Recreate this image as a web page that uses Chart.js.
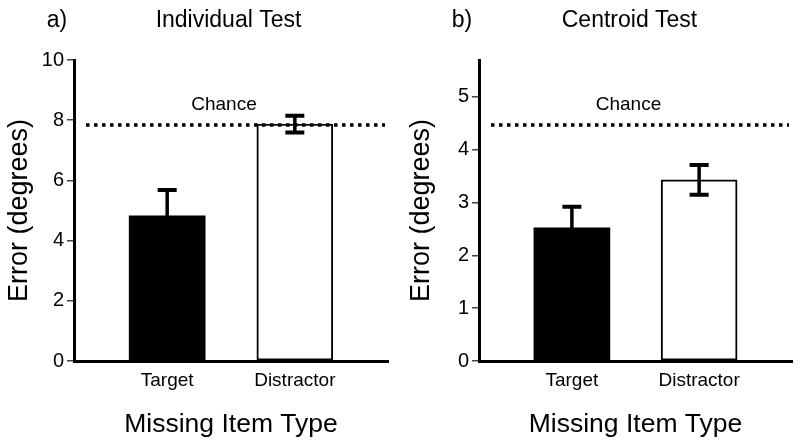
<!DOCTYPE html>
<html>
<head>
<meta charset="utf-8">
<script src="https://cdn.jsdelivr.net/npm/chart.js@4.4.0/dist/chart.umd.min.js"></script>
<style>
  html, body { margin: 0; padding: 0; background: #fff; }
  .wrap { position: relative; width: 800px; height: 446px; }
  .panel { position: absolute; top: 0; width: 400px; height: 446px; }
</style>
</head>
<body>
<div class="wrap">
  <div class="panel" style="left:0"><canvas id="chartA"></canvas></div>
  <div class="panel" style="left:400px"><canvas id="chartB"></canvas></div>
</div>
<script>
// Data
const categories = ['Target', 'Distractor'];
const individualMeans = [4.82, 7.87];
const individualErrors = [0.86, 0.28];
const individualChance = 7.84;
const individualTicks = [0, 2, 4, 6, 8, 10];
const centroidMeans = [2.52, 3.43];
const centroidErrors = [0.40, 0.28];
const centroidChance = 4.47;
const centroidTicks = [0, 1, 2, 3, 4, 5];
const barColors = ['#000000', '#ffffff'];

const FONT = '"Liberation Sans", Arial, Helvetica, sans-serif';

// Chance line, error bars, panel titles
const extrasPlugin = {
    id: 'extras',
    afterDatasetsDraw(chart, args, opts) {
        const ctx = chart.ctx;
        const area = chart.chartArea;
        const y = chart.scales.y;
        const cy = y.getPixelForValue(opts.chance);
        const mid = (area.left + area.right) / 2;
        ctx.save();
        ctx.strokeStyle = '#000';
        ctx.fillStyle = '#000';

        // dotted chance line
        ctx.lineWidth = 3.5;
        ctx.setLineDash([3.5, 4.5]);
        ctx.beginPath();
        ctx.moveTo(area.left + 12, cy);
        ctx.lineTo(area.right - 3, cy);
        ctx.stroke();
        ctx.setLineDash([]);

        ctx.font = '19px ' + FONT;
        ctx.textAlign = 'center';
        ctx.textBaseline = 'middle';
        ctx.fillText('Chance', mid - 7, cy - 20);

        // error bars
        const meta = chart.getDatasetMeta(0);
        meta.data.forEach((bar, i) => {
            const top = y.getPixelForValue(opts.means[i] + opts.errors[i]);
            const bot = y.getPixelForValue(opts.means[i] - opts.errors[i]);
            ctx.lineWidth = 3.5;
            ctx.beginPath();
            ctx.moveTo(bar.x, top);
            ctx.lineTo(bar.x, bot);
            ctx.stroke();
            ctx.lineWidth = 4;
            ctx.beginPath();
            ctx.moveTo(bar.x - 9.5, top);
            ctx.lineTo(bar.x + 9.5, top);
            ctx.moveTo(bar.x - 9.5, bot);
            ctx.lineTo(bar.x + 9.5, bot);
            ctx.stroke();
        });

        // panel letter + title
        ctx.font = '23px ' + FONT;
        ctx.fillText(opts.letter, area.left - 17, 21);
        ctx.fillText(opts.title, mid - opts.titleShift, 21);
        ctx.restore();
    }
};

function makeChart(id, means, errors, chance, tickValues, yMax, cfg) {
    const ctx = document.getElementById(id).getContext('2d');
    return new Chart(ctx, {
        type: 'bar',
        data: {
            datasets: [{
                data: categories.map((c, i) => ({ x: i + 1, y: means[i] })),
                backgroundColor: barColors,
                borderColor: '#000',
                borderWidth: [0, 2],
                borderSkipped: false,
                barThickness: 76
            }]
        },
        options: {
            responsive: true,
            maintainAspectRatio: false,
            animation: false,
            layout: { padding: { top: 60, right: cfg.padRight, bottom: 0, left: 0 } },
            plugins: {
                legend: { display: false },
                tooltip: { enabled: false },
                extras: {
                    means: means,
                    errors: errors,
                    chance: chance,
                    letter: cfg.letter,
                    title: cfg.title,
                    titleShift: cfg.titleShift
                }
            },
            scales: {
                x: {
                    type: 'linear',
                    min: 0.27,
                    max: 2.73,
                    offset: false,
                    bounds: 'ticks',
                    z: 1,
                    afterBuildTicks: (scale) => {
                        scale.ticks = categories.map((c, i) => ({ value: i + 1 }));
                    },
                    afterFit: (scale) => { scale.height = 85; },
                    grid: { display: false, drawTicks: false, offset: false },
                    border: { display: true, color: '#000', width: 3 },
                    ticks: {
                        color: '#000',
                        padding: 8,
                        font: { family: FONT, size: 19 },
                        callback: (v) => categories[v - 1] || ''
                    },
                    title: {
                        display: true,
                        text: 'Missing Item Type',
                        color: '#000',
                        font: { family: FONT, size: 26.5 },
                        padding: { top: 0, bottom: 5 }
                    }
                },
                y: {
                    min: 0,
                    max: yMax,
                    afterBuildTicks: (scale) => {
                        scale.ticks = tickValues.map(v => ({ value: v }));
                    },
                    afterFit: (scale) => { scale.width = cfg.axisX; },
                    grid: {
                        display: true,
                        drawOnChartArea: false,
                        drawTicks: true,
                        tickLength: 7,
                        tickColor: '#444',
                        lineWidth: 1.5
                    },
                    border: { display: true, color: '#000', width: 3 },
                    ticks: {
                        color: '#000',
                        padding: 3,
                        font: { family: FONT, size: 20 }
                    },
                    title: {
                        display: true,
                        text: 'Error (degrees)',
                        color: '#000',
                        font: { family: FONT, size: 27 },
                        padding: { top: cfg.yTitlePad, bottom: 0 }
                    }
                }
            }
        },
        plugins: [extrasPlugin]
    });
}

makeChart('chartA', individualMeans, individualErrors, individualChance, individualTicks, 10,
    { letter: 'a)', title: 'Individual Test', titleShift: 2.5, padRight: 12, axisX: 74, yTitlePad: 3 });
makeChart('chartB', centroidMeans, centroidErrors, centroidChance, centroidTicks, 5.7,
    { letter: 'b)', title: 'Centroid Test', titleShift: 6, padRight: 8, axisX: 79, yTitlePad: 5 });
</script>
</body>
</html>
